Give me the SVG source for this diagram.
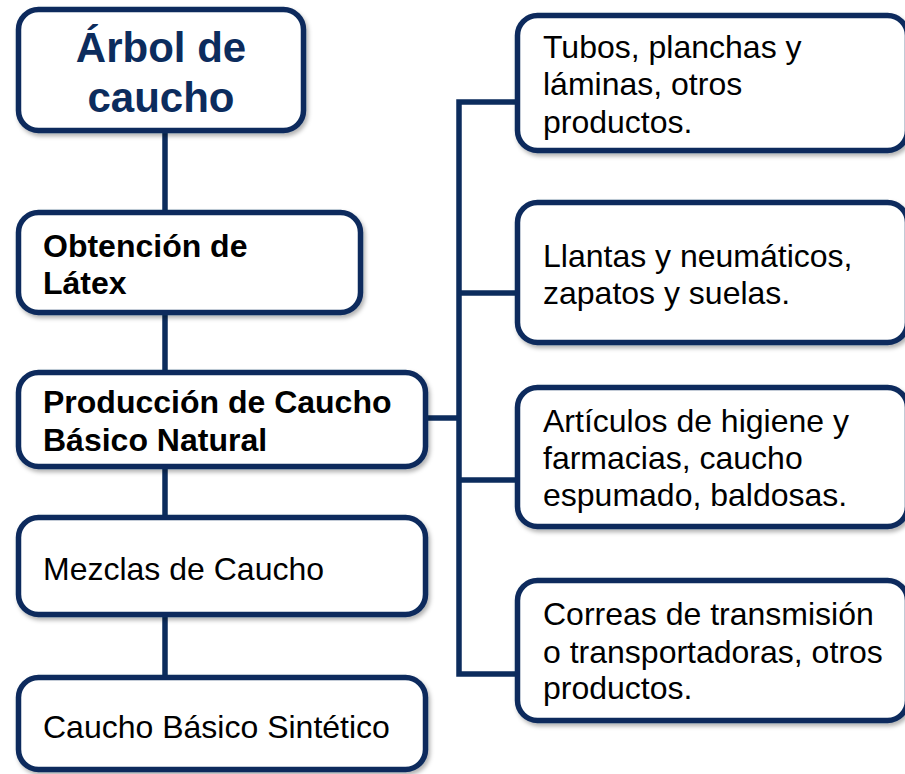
<svg xmlns="http://www.w3.org/2000/svg" width="905" height="774" viewBox="0 0 905 774">
<defs>
<filter id="sh" x="-10%" y="-10%" width="130%" height="130%">
<feDropShadow dx="2" dy="3" stdDeviation="2" flood-color="#000" flood-opacity="0.3"/>
</filter>
</defs>
<style>
.box{fill:#fff;stroke:#0c2c5d;stroke-width:5.5;filter:url(#sh)}
.ln{stroke:#0c2c5d;stroke-width:5.5;fill:none;stroke-linecap:butt}
.t{font-family:"Liberation Sans",Arial,sans-serif;font-size:32px;fill:#000}
.b{font-weight:bold}
.title{font-family:"Liberation Sans",Arial,sans-serif;font-size:42px;font-weight:bold;fill:#0c2c5d;text-anchor:middle}
</style>
<g id="connectors">
<line class="ln" x1="165" y1="130" x2="165" y2="213"/>
<line class="ln" x1="165" y1="312" x2="165" y2="373"/>
<line class="ln" x1="165" y1="466" x2="165" y2="518"/>
<line class="ln" x1="165" y1="614" x2="165" y2="678"/>
<line class="ln" x1="426" y1="418" x2="459" y2="418"/>
<polyline class="ln" points="518,102 459,102 459,674 518,674"/>
<line class="ln" x1="459" y1="293" x2="518" y2="293"/>
<line class="ln" x1="459" y1="480" x2="518" y2="480"/>
</g>
<g id="arbol">
<rect class="box" x="18.5" y="9.5" width="285" height="121" rx="20"/>
<text class="title" x="161" y="62">Árbol de</text>
<text class="title" x="161" y="112">caucho</text>
</g>
<g id="obtencion">
<rect class="box" x="18.5" y="212.5" width="342" height="100" rx="20"/>
<text class="t b" x="43" y="257">Obtención de</text>
<text class="t b" x="43" y="294">Látex</text>
</g>
<g id="produccion">
<rect class="box" x="18.5" y="372.5" width="407" height="94" rx="20"/>
<text class="t b" x="43" y="413">Producción de Caucho</text>
<text class="t b" x="43" y="451">Básico Natural</text>
</g>
<g id="mezclas">
<rect class="box" x="18.5" y="517.5" width="407" height="97" rx="20"/>
<text class="t" x="43" y="580">Mezclas de Caucho</text>
</g>
<g id="sintetico">
<rect class="box" x="18.5" y="677.5" width="407" height="92" rx="20"/>
<text class="t" x="43" y="738">Caucho Básico Sintético</text>
</g>
<g id="tubos">
<rect class="box" x="517.5" y="15.5" width="390" height="135" rx="20"/>
<text class="t" x="543" y="58">Tubos, planchas y</text>
<text class="t" x="543" y="95">láminas, otros</text>
<text class="t" x="543" y="133">productos.</text>
</g>
<g id="llantas">
<rect class="box" x="517.5" y="202.5" width="390" height="140" rx="20"/>
<text class="t" x="543" y="267">Llantas y neumáticos,</text>
<text class="t" x="543" y="304">zapatos y suelas.</text>
</g>
<g id="articulos">
<rect class="box" x="517.5" y="387.5" width="390" height="139" rx="20"/>
<text class="t" x="543" y="432">Artículos de higiene y</text>
<text class="t" x="543" y="469">farmacias, caucho</text>
<text class="t" x="543" y="506">espumado, baldosas.</text>
</g>
<g id="correas">
<rect class="box" x="517.5" y="580.5" width="390" height="140" rx="20"/>
<text class="t" x="543" y="625">Correas de transmisión</text>
<text class="t" x="543" y="663">o transportadoras, otros</text>
<text class="t" x="543" y="699">productos.</text>
</g>
</svg>
